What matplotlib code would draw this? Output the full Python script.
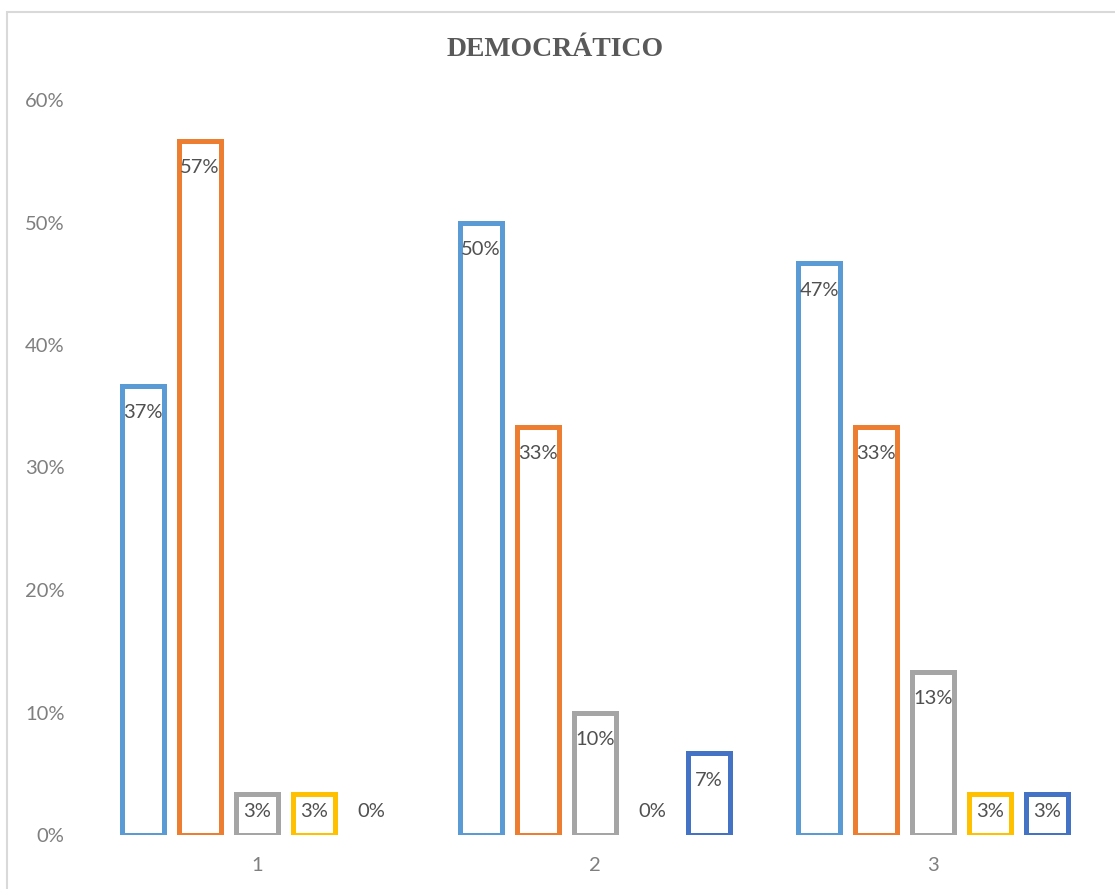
import matplotlib.pyplot as plt
from matplotlib.patches import Rectangle
import numpy as np

categorias = ['1', '2', '3']
# proporciones sobre 30 respuestas por grupo
serie1 = [11/30, 15/30, 14/30]
serie2 = [17/30, 10/30, 10/30]
serie3 = [1/30, 3/30, 4/30]
serie4 = [1/30, 0, 1/30]
serie5 = [0, 2/30, 1/30]
series = [serie1, serie2, serie3, serie4, serie5]
colores = ['#5B9BD5', '#ED7D31', '#A5A5A5', '#FFC000', '#4472C4']

plt.rcParams['font.family'] = ['Lato', 'DejaVu Sans']

fig = plt.figure(figsize=(11.15, 8.89), dpi=100)
ax = fig.add_axes([88/1115, 54/889, 1014/1115, 735/889])

x = np.arange(1, len(categorias) + 1)
paso = 0.1686
ancho = 0.124

for i, (vals, col) in enumerate(zip(series, colores)):
    pos = x + (i - 2) * paso
    barras = ax.bar(pos, vals, width=ancho, fill=False, edgecolor=col,
                    linewidth=3.6)
    for rect, v, px in zip(barras, vals, pos):
        if v == 0:
            rect.set_visible(False)
        # etiqueta dentro del extremo de la barra
        ly = max(v - 0.022, 0.0188)
        ax.text(px, ly, '{:.0f}%'.format(v*100), ha='center', va='center',
                fontsize=14.5, color='#505050')

ax.set_xlim(0.5, 3.5)
ax.set_ylim(0, 0.6)
ax.set_xticks(x)
ax.set_xticklabels(categorias)
ax.set_yticks(np.arange(0, 0.61, 0.1))
ax.set_yticklabels(['{:.0f}%'.format(t*100) for t in np.arange(0, 0.61, 0.1)])
ax.tick_params(axis='both', length=0, labelsize=14.5, labelcolor='#7F7F7F')
ax.tick_params(axis='y', pad=17)
ax.tick_params(axis='x', pad=16)
for s in ax.spines.values():
    s.set_visible(False)

fig.text(555/1115, 1 - 50/889, 'DEMOCRÁTICO', ha='center', va='center',
         fontsize=20, fontweight='bold', color='#595959',
         family=['Liberation Serif'])

# marco del gráfico
fig.patches.append(Rectangle((7/1115, -0.05), 1.0, 1.05 - 12/889,
                             transform=fig.transFigure, fill=False,
                             edgecolor='#D9D9D9', linewidth=1.5))

fig.savefig('out.png', dpi=100)
